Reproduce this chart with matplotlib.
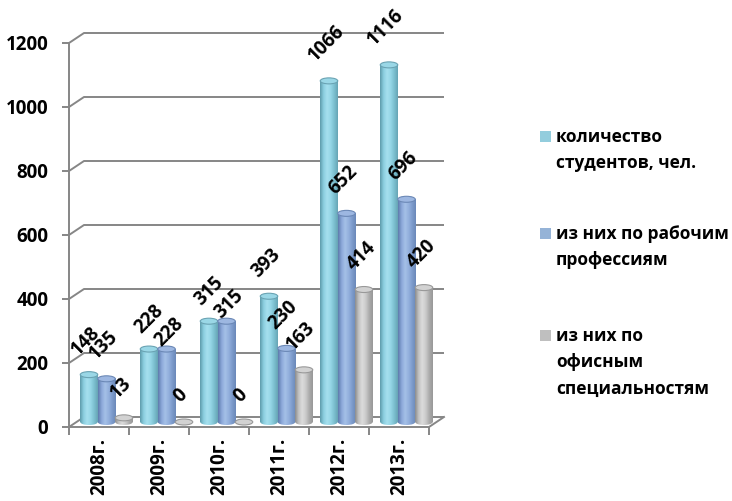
import numpy as np
import matplotlib
matplotlib.use('Agg')
import matplotlib.pyplot as plt
from matplotlib.colors import LinearSegmentedColormap
from matplotlib.patches import Ellipse, Rectangle
from matplotlib.transforms import offset_copy

plt.rcParams['font.family'] = ['Open Sans', 'DejaVu Sans']
plt.rcParams['font.weight'] = 'bold'

years = ['2008г.', '2009г.', '2010г.', '2011г.', '2012г.', '2013г.']
students = [148, 228, 315, 393, 1066, 1116]
workers = [135, 228, 315, 230, 652, 696]
office = [13, 0, 0, 163, 414, 420]
series = [students, workers, office]
series_names = ['количество\nстудентов, чел.',
                'из них по рабочим\nпрофессиям',
                'из них по\nофисным\nспециальностям']
yticks = [0, 200, 400, 600, 800, 1000, 1200]

# cylinder shading, left edge -> right edge
shades = [
    ['#5e9cac', '#8ccfe0', '#a6e0ef', '#95d6e6', '#7cbfcf', '#66a5b5'],
    ['#5d7cad', '#8ca8d9', '#a5c0e7', '#93b0dd', '#7d9bcb', '#6a88b9'],
    ['#8c8c8c', '#c2c2c2', '#dcdcdc', '#cbcbcb', '#ababab', '#989898'],
]
tops = [('#9ad7e6', '#6aa3b3'), ('#9db7e1', '#6b88b6'), ('#d2d2d2', '#999999')]
legend_colors = ['#93cddd', '#95b3d7', '#bfbfbf']
grid_color = '#868686'

W, H = 732, 501
fig = plt.figure(figsize=(W / 100, H / 100), dpi=100)
# front plane: x 69..489 px (7 units), y 427 px (0) .. 43 px (1200)
ax = fig.add_axes([69 / W, 1 - 427 / H, 420 / W, 384 / H])
ax.set_xlim(0, 7)
ax.set_ylim(0, 1200)
ax.set_autoscale_on(False)
for s in ax.spines.values():
    s.set_visible(False)

ux = 1 / 60.0      # data units per pixel, x
uy = 1200 / 384.0  # data units per pixel, y
dx, dy = 15 * ux, 10 * uy

# back wall gridlines with the short diagonal to the front axis
for v in yticks:
    ax.plot([0, dx, 6 + dx], [v, v + dy, v + dy], color=grid_color,
            lw=1.4, clip_on=False, zorder=1, solid_capstyle='butt')
# floor front edge and the y axis
ax.plot([0, 6, 6 + dx], [0, 0, dy], color=grid_color, lw=1.4, clip_on=False, zorder=1)
ax.plot([0, 0], [0, 1200], color=grid_color, lw=1.4, clip_on=False, zorder=1)

ax.set_yticks(yticks)
ax.set_yticklabels([str(v) for v in yticks], fontsize=13.5, fontweight='bold')
ax.set_xticks(range(7))
ax.set_xticklabels([])
ax.set_xticks([i + 0.5 for i in range(6)], minor=True)
ax.set_xticklabels(years, minor=True, rotation=90, fontsize=13.5, fontweight='bold', va='top')
ax.tick_params(axis='y', length=5, width=1.4, color=grid_color, pad=10)
ax.tick_params(axis='x', which='major', length=6, width=1.4, color=grid_color)
ax.tick_params(axis='x', which='minor', length=0, pad=8)
ax.set_xlim(0, 7)

bw = 17.5 * ux
depth_x, base = 7.5 * ux, 5 * uy
eh = 6 * uy
grad = np.linspace(0, 1, 64)[None, :]

for j, vals in enumerate(series):
    cmap = LinearSegmentedColormap.from_list('c%d' % j, shades[j])
    face, edge = tops[j]
    for i, v in enumerate(vals):
        xc = i + 0.5 + depth_x + (j - 1) * bw
        x0, x1 = xc - bw / 2, xc + bw / 2
        top = base + v
        # rounded bottom
        ell = Ellipse((xc, base), bw, eh, transform=ax.transData)
        im = ax.imshow(grad, cmap=cmap, extent=[x0, x1, base - eh / 2, base + eh / 2],
                       aspect='auto', zorder=3 + i * 0.1, interpolation='bilinear')
        im.set_clip_path(ell)
        if v > 0:
            ax.imshow(grad, cmap=cmap, extent=[x0, x1, base, top],
                      aspect='auto', zorder=3 + i * 0.1, interpolation='bilinear')
        ax.add_patch(Ellipse((xc, top), bw, eh, facecolor=face, edgecolor=edge,
                             lw=0.8, zorder=3.05 + i * 0.1))
        # stagger labels of equal neighbouring bars so they don't collide
        ox, oy = -3, 15
        if j < 2 and students[i] == workers[i]:
            ox, oy = (0, 12) if j == 0 else (3, -1)
        tr = offset_copy(ax.transData, fig, x=ox, y=oy, units='dots')
        ax.text(xc, top, str(v), transform=tr, rotation=45, ha='center', va='bottom',
                fontsize=13.5, fontweight='bold', zorder=10)

ax.set_xlim(0, 7)
ax.set_ylim(0, 1200)

# legend on the right
legend_y = [136, 233, 335]
for name, color, y in zip(series_names, legend_colors, legend_y):
    fig.patches.append(Rectangle((540 / W, 1 - (y + 5.5) / H), 11 / W, 11 / H,
                                 facecolor=color, edgecolor='none',
                                 transform=fig.transFigure, figure=fig))
    fig.text(556 / W, 1 - (y - 8) / H, name, ha='left', va='top', fontsize=12.5,
             fontweight='bold', linespacing=1.6)

fig.savefig('out.png', dpi=100)
